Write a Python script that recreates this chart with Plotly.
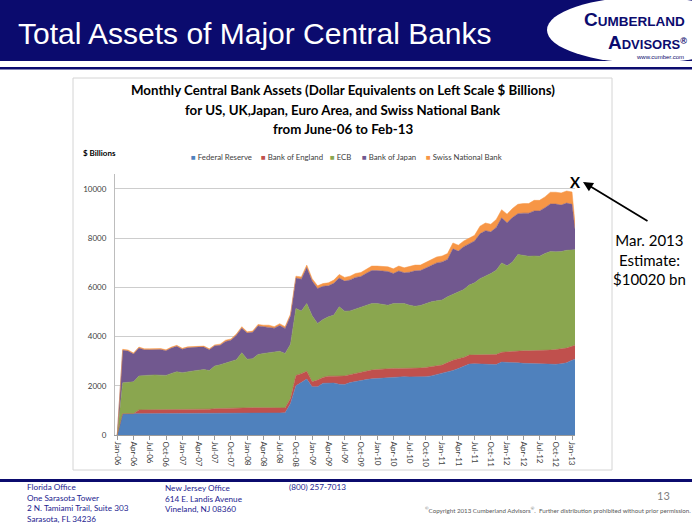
import plotly.graph_objects as go

# ---------------- data (USD billions, monthly Jan-06 .. Feb-13) ----------------
month_names = ["Jan", "Feb", "Mar", "Apr", "May", "Jun", "Jul", "Aug", "Sep", "Oct", "Nov", "Dec"]
months = [f"{m}-{y:02d}" for y in range(6, 14) for m in month_names][:86]

fed_reserve = [0, 860, 865, 865, 865, 865, 870, 870, 870, 870, 870, 875, 875, 875, 875, 875,
               880, 880, 880, 880, 880, 885, 885, 885, 890, 890, 890, 890, 890, 890, 895, 900,
               1280, 2000, 2130, 2270, 1960, 1960, 2100, 2110, 2110, 2060, 2050, 2130, 2180, 2220,
               2250, 2280, 2300, 2320, 2340, 2360, 2370, 2370, 2360, 2360, 2360, 2370, 2400, 2450,
               2500, 2560, 2620, 2700, 2790, 2880, 2890, 2890, 2890, 2870, 2860, 2960, 2960, 2950,
               2930, 2910, 2900, 2890, 2880, 2870, 2860, 2870, 2890, 2930, 3040, 3110]
bank_of_england = [0, 0, 0, 0, 155, 155, 155, 155, 155, 155, 160, 165, 160, 165, 165, 170,
                   170, 170, 190, 200, 205, 205, 215, 225, 220, 220, 220, 220, 220, 220, 220, 200,
                   200, 420, 360, 320, 200, 270, 240, 280, 280, 340, 350, 320, 320, 330,
                   350, 360, 360, 360, 360, 345, 335, 335, 345, 350, 360, 375, 380, 363,
                   340, 380, 420, 400, 360, 365, 355, 355, 355, 380, 410, 400, 420, 460,
                   490, 510, 520, 530, 550, 570, 590, 600, 600, 600, 560, 580]
ecb = [0, 1260, 1275, 1295, 1380, 1410, 1405, 1415, 1415, 1395, 1470, 1530, 1495, 1510, 1560, 1585,
       1610, 1570, 1730, 1770, 1845, 1890, 1960, 2230, 1970, 1990, 2160, 2200, 2220, 2240, 2285, 2210,
       2210, 2720, 2550, 2750, 2680, 2300, 2350, 2410, 2480, 2810, 2630, 2590, 2610, 2620,
       2650, 2700, 2680, 2610, 2570, 2635, 2635, 2635, 2565, 2520, 2540, 2595, 2630, 2637,
       2640, 2670, 2680, 2720, 2760, 2845, 2935, 3105, 3205, 3310, 3420, 3630, 3490, 3620,
       3910, 3880, 3840, 3850, 3830, 3930, 4000, 3970, 3960, 3970, 3900, 3840]
bank_of_japan = [0, 1320, 1270, 1130, 1130, 1030, 1030, 1030, 1030, 1000, 1030, 1030, 950, 990, 960, 940,
                 910, 840, 820, 790, 870, 870, 990, 1000, 1060, 1070, 1160, 1090, 1070, 990, 1050, 1020,
                 1140, 1240, 1290, 1460, 1410, 1420, 1350, 1260, 1290, 1170, 1220, 1260, 1290, 1270,
                 1320, 1340, 1340, 1360, 1370, 1220, 1320, 1250, 1340, 1440, 1420, 1440, 1490, 1540,
                 1550, 1520, 1840, 1650, 1740, 1660, 1700, 1820, 1850, 1690, 1740, 1830, 1750, 1800,
                 1660, 1710, 1750, 1830, 1840, 1860, 1930, 1940, 1890, 1920, 1870, 0]
swiss_national_bank = [0, 40, 40, 40, 40, 40, 40, 40, 40, 40, 40, 40, 40, 40, 40, 40,
                       40, 40, 40, 50, 50, 50, 50, 60, 50, 50, 60, 60, 60, 60, 70, 70,
                       80, 70, 90, 100, 100, 110, 110, 120, 130, 140, 150, 150, 160, 160,
                       160, 180, 180, 180, 190, 190, 200, 200, 220, 230, 220, 220, 230, 240,
                       240, 240, 240, 240, 230, 230, 230, 310, 310, 310, 320, 330, 350, 370,
                       380, 390, 390, 430, 430, 440, 480, 480, 490, 490, 500, 0]

series_names = ["Federal Reserve", "Bank of England", "ECB", "Bank of Japan", "Swiss National Bank"]
series_values = [fed_reserve, bank_of_england, ecb, bank_of_japan, swiss_national_bank]
series_colors = ["#4F81BD", "#C0504D", "#8AA64F", "#71588F", "#F79646"]

tick_labels = ["Jan-06", "Apr-06", "Jul-06", "Oct-06", "Jan-07", "Apr-07", "Jul-07", "Oct-07",
               "Jan-08", "Apr-08", "Jul-08", "Oct-08", "Jan-09", "Apr-09", "Jul-09", "Oct-09",
               "Jan-10", "Apr-10", "Jul-10", "Oct-10", "Jan-11", "Apr-11", "Jul-11", "Oct-11",
               "Jan-12", "Apr-12", "Jul-12", "Oct-12", "Jan-13"]
y_ticks = [0, 2000, 4000, 6000, 8000, 10000]
y_tick_labels = ["0", "2000", "4000", "6000", "8000", "10000"]

# ---------------- layout geometry ----------------
W, H = 700, 525
L, R, T, B = 115, 125, 174, 90
PW = W - L - R
PH = H - T - B


def px(x):
    return (x - L) / PW


def py(y):
    return (H - B - y) / PH


NAVY = "#0B0B6E"
TXT = "#404040"

fig = go.Figure()
x_idx = list(range(len(months)))
for name, vals, col in zip(series_names, series_values, series_colors):
    fig.add_trace(go.Scatter(
        x=x_idx, y=vals, name=name, stackgroup="one", mode="lines",
        line=dict(width=0.5, color=col), fillcolor=col, showlegend=False,
        hoverinfo="skip"))

tick_vals = [months.index(t) for t in tick_labels]

fig.update_layout(
    width=W, height=H,
    margin=dict(l=L, r=R, t=T, b=B, pad=0),
    paper_bgcolor="white", plot_bgcolor="white",
    font=dict(family="Lato, Liberation Sans, sans-serif", color=TXT, size=8),
    xaxis=dict(range=[-0.42, 84.55], tickvals=tick_vals, ticktext=tick_labels,
               tickangle=90, tickfont=dict(size=8, color=TXT), showgrid=False,
               showline=True, linecolor="#9A9A9A", linewidth=1,
               ticks="outside", ticklen=4, tickcolor="#9A9A9A", zeroline=False),
    yaxis=dict(range=[0, 10600], tickvals=y_ticks, ticktext=y_tick_labels,
               tickfont=dict(size=8, color=TXT),
               showgrid=True, gridcolor="#CDCDCD", gridwidth=1,
               showline=True, linecolor="#BDBDBD", linewidth=1, zeroline=False,
               ticks="", ticklabelstandoff=6),
)

shapes = []
# header banner
shapes.append(dict(type="rect", xref="paper", yref="paper", x0=px(0), x1=px(692), y0=py(0), y1=py(61),
                   fillcolor=NAVY, line=dict(width=0), layer="above"))
shapes.append(dict(type="circle", xref="paper", yref="paper", x0=px(547), x1=px(745), y0=py(-3), y1=py(63),
                   fillcolor="white", line=dict(width=0), layer="above"))
shapes.append(dict(type="rect", xref="paper", yref="paper", x0=px(692), x1=px(700), y0=py(0), y1=py(66),
                   fillcolor="white", line=dict(width=0), layer="above"))
shapes.append(dict(type="rect", xref="paper", yref="paper", x0=px(0), x1=px(692), y0=py(67), y1=py(69.5),
                   fillcolor=NAVY, line=dict(width=0), layer="above"))
# chart frame
shapes.append(dict(type="rect", xref="paper", yref="paper", x0=px(73), x1=px(612), y0=py(78), y1=py(470),
                   fillcolor="rgba(0,0,0,0)", line=dict(width=1, color="#D4D4D4"), layer="below"))
# footer line
shapes.append(dict(type="rect", xref="paper", yref="paper", x0=px(0), x1=px(692), y0=py(479), y1=py(482),
                   fillcolor=NAVY, line=dict(width=0), layer="above"))
fig.update_layout(shapes=shapes)

ann = []


def text(x, y, s, size, color=TXT, family=None, xanchor="left", align="left", bold=False):
    d = dict(xref="paper", yref="paper", x=px(x), y=py(y), text=(f"<b>{s}</b>" if bold else s),
             showarrow=False, xanchor=xanchor, yanchor="middle", align=align,
             font=dict(size=size, color=color))
    if family:
        d["font"]["family"] = family
    ann.append(d)


# slide title
text(16, 33, "Total Assets of Major Central Banks", 30, color="white",
     family="Liberation Sans, Arial, sans-serif")
# logo
text(687, 19, "<span style='font-size:19px'>C</span>UMBERLAND", 13.5, color=NAVY,
     family="Liberation Sans, sans-serif", xanchor="right", bold=True)
text(689, 42, "<span style='font-size:19px'>A</span>DVISORS<sup>®</sup>", 13, color=NAVY,
     family="Liberation Sans, sans-serif", xanchor="right", bold=True)
text(686, 57, "www.cumber.com", 6, color=NAVY, family="Liberation Sans, sans-serif", xanchor="right")

# chart title
text(343, 90, "Monthly Central Bank Assets (Dollar Equivalents on Left Scale $ Billions)", 13.3,
     color="black", xanchor="center", bold=True)
text(343, 110, "for US, UK,Japan, Euro Area, and Swiss National Bank", 13.3,
     color="black", xanchor="center", bold=True)
text(343, 129, "from June-06 to Feb-13", 13.3, color="black", xanchor="center", bold=True)

# axis title
text(81, 153, "$ Billions", 8, color="black", bold=True)

# legend
leg_x = [189, 259, 328, 360, 424]
for lx, name, col in zip(leg_x, series_names, series_colors):
    text(lx, 157, f"<span style='color:{col}'>■</span> {name}", 7.8)

# estimate marker
text(575, 182, "X", 15, color="black", xanchor="center", bold=True)
ann.append(dict(xref="paper", yref="paper", x=px(583), y=py(182), ax=66, ay=40, text="",
                showarrow=True, arrowhead=2, arrowsize=1.1, arrowwidth=1.8, arrowcolor="black",
                standoff=0, startstandoff=0))
text(649, 259, "Mar. 2013<br>Estimate:<br>$10020 bn", 15, color="black", xanchor="center",
     align="center")

# footer
FOOT = "#23238F"
text(25, 503, "Florida Office<br>One Sarasota Tower<br>2 N. Tamiami Trail, Suite 303<br>Sarasota, FL 34236",
     8.2, color=FOOT)
text(163, 498, "New Jersey Office<br>614 E. Landis Avenue<br>Vineland, NJ 08360", 8.2, color=FOOT)
text(287, 487, "(800) 257-7013", 8.2, color=FOOT)
text(663, 495, "13", 11, color="#7F7F7F", xanchor="center")
text(693, 510, "<sup>©</sup>Copyright 2013 Cumberland Advisors<sup>®</sup>.  Further distribution prohibited without prior permission.",
     6.2, color="#595959", xanchor="right")

fig.update_layout(annotations=ann)
fig.write_html("out.html", config={"displayModeBar": False},
               post_script="document.body.style.margin='0px';document.body.style.overflow='hidden';")
